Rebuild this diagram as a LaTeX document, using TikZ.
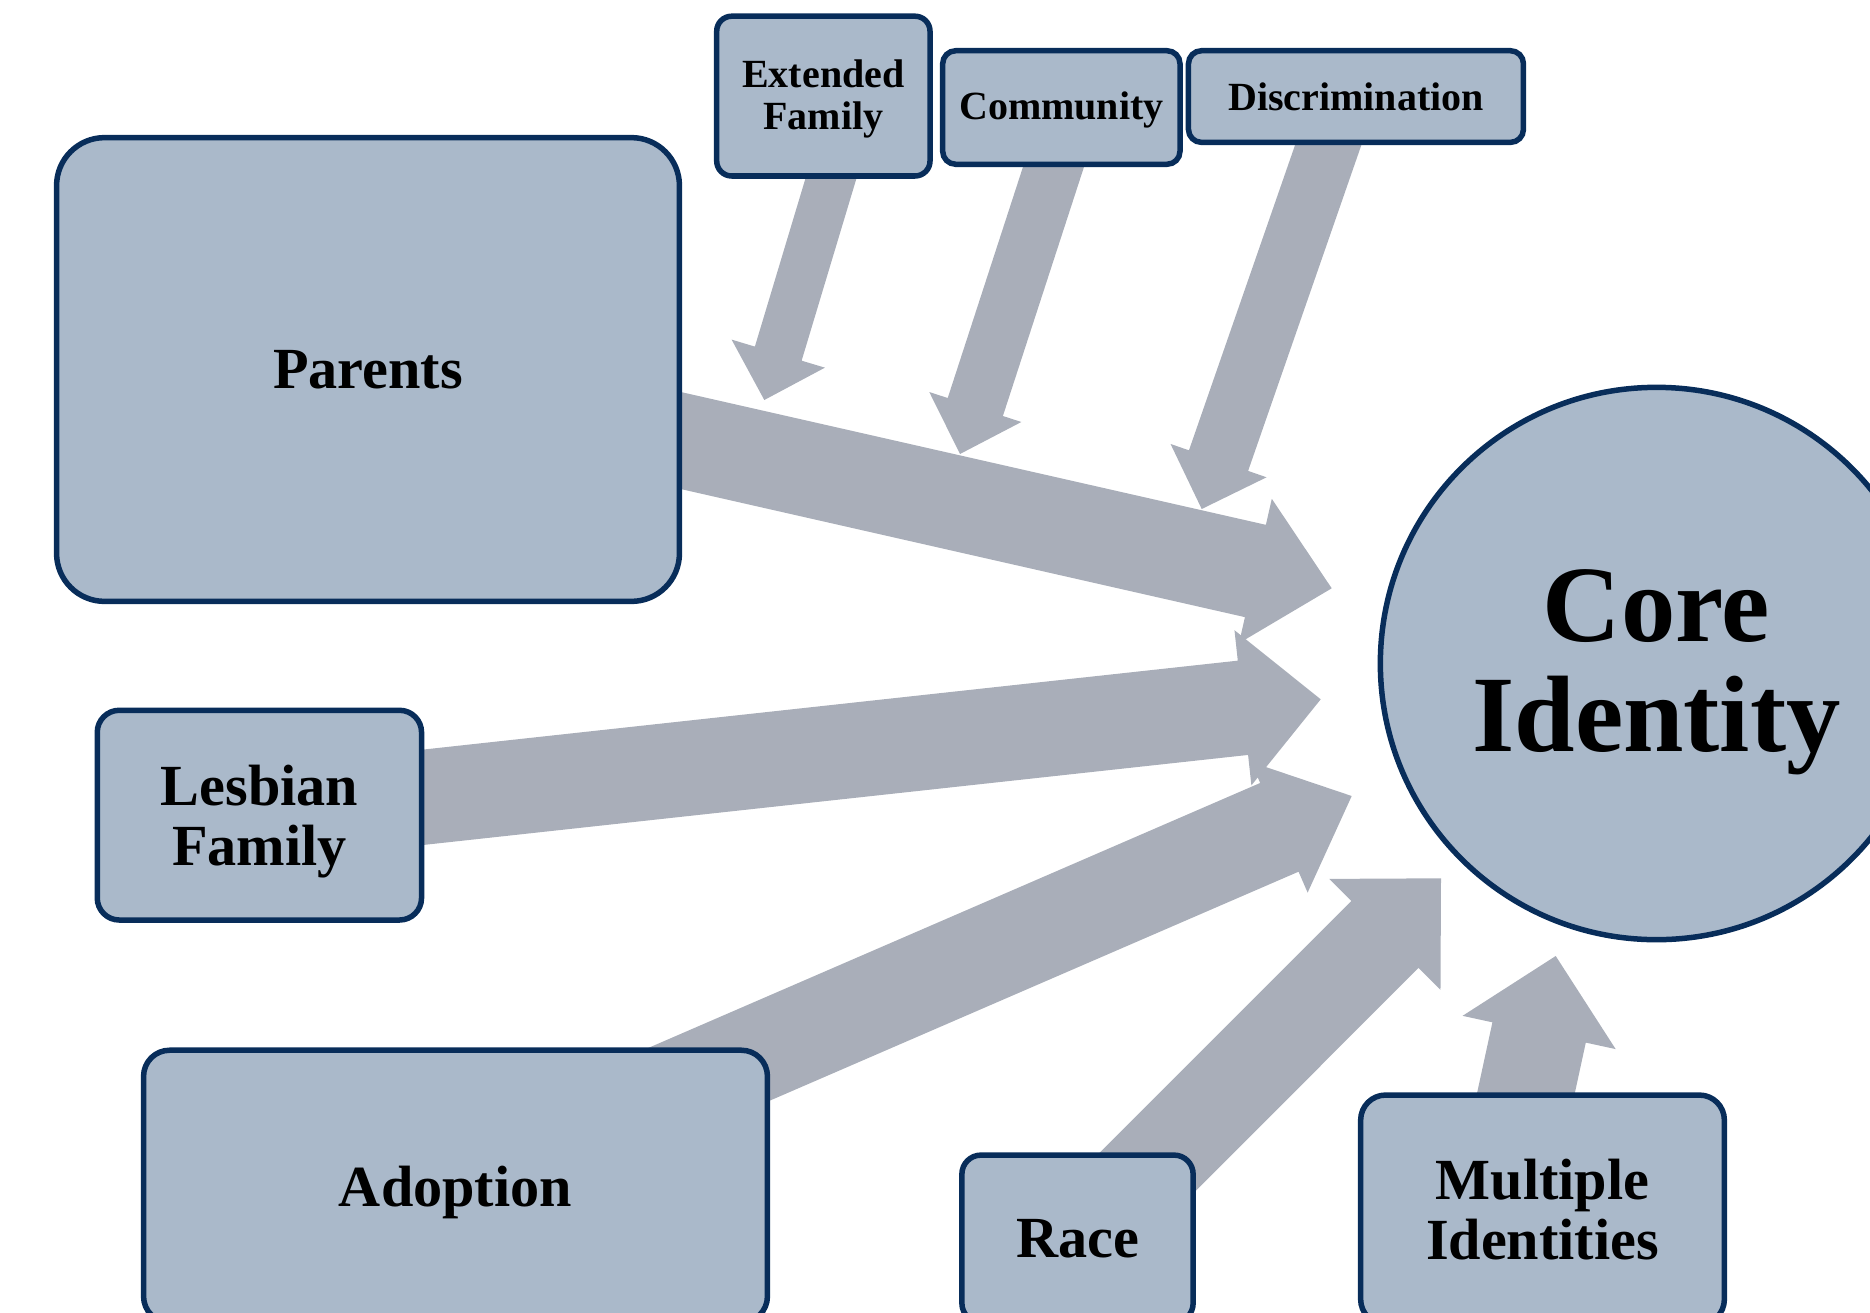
\documentclass[tikz,border=0pt]{standalone}
\usepackage{fontspec}
\setmainfont{Liberation Serif}
\usetikzlibrary{calc}
\pgfdeclarelayer{bg}
\pgfsetlayers{bg,main}
\definecolor{boxfill}{RGB}{170,185,202}
\definecolor{boxline}{RGB}{8,45,90}
\definecolor{arrowgray}{RGB}{169,174,185}
% #1 tail, #2 tip, #3 shaft half width, #4 head half width, #5 head length
\newcommand\blockarrow[5]{%
  \coordinate (bah) at ($(#2)!#5!(#1)$);
  \fill[arrowgray] ($(#1)!#3!90:(#2)$) -- ($(bah)!#3!90:(#2)$) -- ($(bah)!#4!90:(#2)$)
    -- (#2) -- ($(bah)!#4!-90:(#2)$) -- ($(bah)!#3!-90:(#2)$) -- ($(#1)!#3!-90:(#2)$) -- cycle;}
\begin{document}
\begin{tikzpicture}[x=0.01cm,y=-0.01cm,
  box/.style={draw=boxline, fill=boxfill, line width=0.055cm, inner sep=0pt, align=center,
    font=\bfseries\fontsize{16.56pt}{17.1pt}\selectfont},
  smallbox/.style={box, font=\bfseries\fontsize{11.37pt}{11.9pt}\selectfont},
  corebox/.style={box, circle, font=\bfseries\fontsize{30.9pt}{31.2pt}\selectfont}]
\useasboundingbox (0,0) rectangle (1870,1312);
\clip (0,0) rectangle (1870,1312);

% boxes
\node[box, rounded corners=0.48cm, minimum width=6.225cm, minimum height=4.635cm] (parents) at (368,369.5) {Parents};
\node[box, rounded corners=0.22cm, text depth=0pt, minimum width=3.241cm, minimum height=2.096cm] (lesbian) at (259.4,815.15) {Lesbian\\Family};
\node[box, rounded corners=0.26cm, text depth=0pt, minimum width=6.235cm, minimum height=2.72cm] (adoption) at (455.5,1186.3) {Adoption};
\node[box, rounded corners=0.19cm, minimum width=2.311cm, minimum height=1.671cm] (race) at (1077.5,1238.7) {Race};
\node[box, rounded corners=0.25cm, minimum width=3.635cm, minimum height=2.292cm] (multiple) at (1542.5,1209.7) {Multiple\\Identities};
\node[smallbox, rounded corners=0.15cm, text depth=1pt, minimum width=2.132cm, minimum height=1.597cm] (extended) at (823.35,96.1) {Extended\\Family};
\node[smallbox, rounded corners=0.13cm, text depth=1pt, minimum width=2.372cm, minimum height=1.135cm] (community) at (1061.35,107.5) {Community};
\node[smallbox, rounded corners=0.13cm, minimum width=3.348cm, minimum height=0.916cm] (discrimination) at (1355.95,96.55) {Discrimination};
\node[corebox, text depth=1.5pt, minimum size=5.52cm] (core) at (1656.5,663.5) {Core\\Identity};

% arrow ends
\coordinate (pT) at (1331.7,588.3);
\coordinate (lT) at (1320.7,699.3);
\coordinate (aS) at (600,1121.5);
\coordinate (aT) at (1351.7,796);
\coordinate (rS) at (1100,1219.5);
\coordinate (rT) at (1441,878.3);
\coordinate (mS) at (1502.7,1200);
\coordinate (mT) at (1555.7,956);
\coordinate (eS) at (839.5,150);
\coordinate (eT) at (764.3,400);
\coordinate (cS) at (1065.5,130);
\coordinate (cT) at (960,454);
\coordinate (dS) at (1336.9,120);
\coordinate (dT) at (1201.7,509);

\begin{pgfonlayer}{bg}
\blockarrow{parents.center}{pT}{0.473cm}{0.74cm}{0.782cm}
\blockarrow{lesbian.center}{lT}{0.474cm}{0.78cm}{0.782cm}
\blockarrow{aS}{aT}{0.483cm}{0.711cm}{0.788cm}
\blockarrow{rS}{rT}{0.474cm}{0.785cm}{0.793cm}
\blockarrow{mS}{mT}{0.4775cm}{0.783cm}{0.782cm}
\blockarrow{eS}{eT}{0.244cm}{0.487cm}{0.484cm}
\blockarrow{cS}{cT}{0.29cm}{0.484cm}{0.494cm}
\blockarrow{dS}{dT}{0.313cm}{0.508cm}{0.512cm}
\end{pgfonlayer}
\end{tikzpicture}
\end{document}
